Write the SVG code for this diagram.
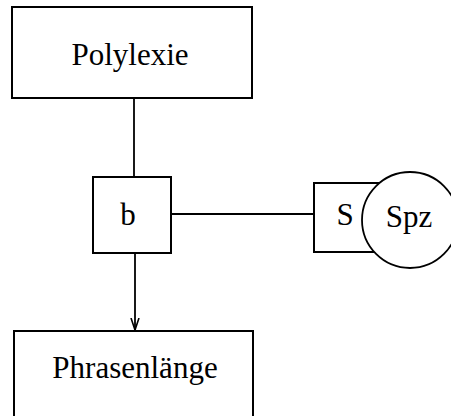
<svg xmlns="http://www.w3.org/2000/svg" width="451" height="416" viewBox="0 0 451 416">
<style>
.box{fill:#fff;stroke:#000;stroke-width:2}
.lbl{font-family:"Liberation Serif","Times New Roman",serif;fill:#000;text-anchor:middle}
.edge{stroke:#000;stroke-width:1.8;fill:none}
</style>
<defs>
<marker id="arr" markerWidth="13" markerHeight="10" refX="12" refY="5" orient="auto" markerUnits="userSpaceOnUse" viewBox="0 0 13 10">
<path d="M0,1 L12,5 L0,9" fill="none" stroke="#000" stroke-width="1.6"/>
</marker>
</defs>
<rect width="451" height="416" fill="#fff"/>
<g id="connectors">
<line class="edge" x1="134" y1="98" x2="134" y2="177"/>
<line class="edge" x1="171" y1="214" x2="314" y2="214"/>
<line class="edge" x1="135" y1="253" x2="135" y2="330" marker-end="url(#arr)"/>
</g>
<g id="polylexie">
<rect class="box" x="12" y="7" width="240" height="91"/>
<text class="lbl" x="130" y="65" font-size="31">Polylexie</text>
</g>
<g id="b">
<rect class="box" x="93" y="177" width="78" height="76"/>
<text class="lbl" x="128" y="225" font-size="31">b</text>
</g>
<g id="s">
<rect class="box" x="314" y="183" width="70" height="69"/>
<text class="lbl" x="345" y="225" font-size="31">S</text>
</g>
<g id="spz">
<circle cx="410" cy="220" r="48" fill="#fff" stroke="#000" stroke-width="1.8"/>
<text class="lbl" x="409" y="227" font-size="31">Spz</text>
</g>
<g id="phrasenlaenge">
<rect class="box" x="14" y="331" width="239" height="100"/>
<text class="lbl" x="135" y="378" font-size="31">Phrasenlänge</text>
</g>
</svg>
